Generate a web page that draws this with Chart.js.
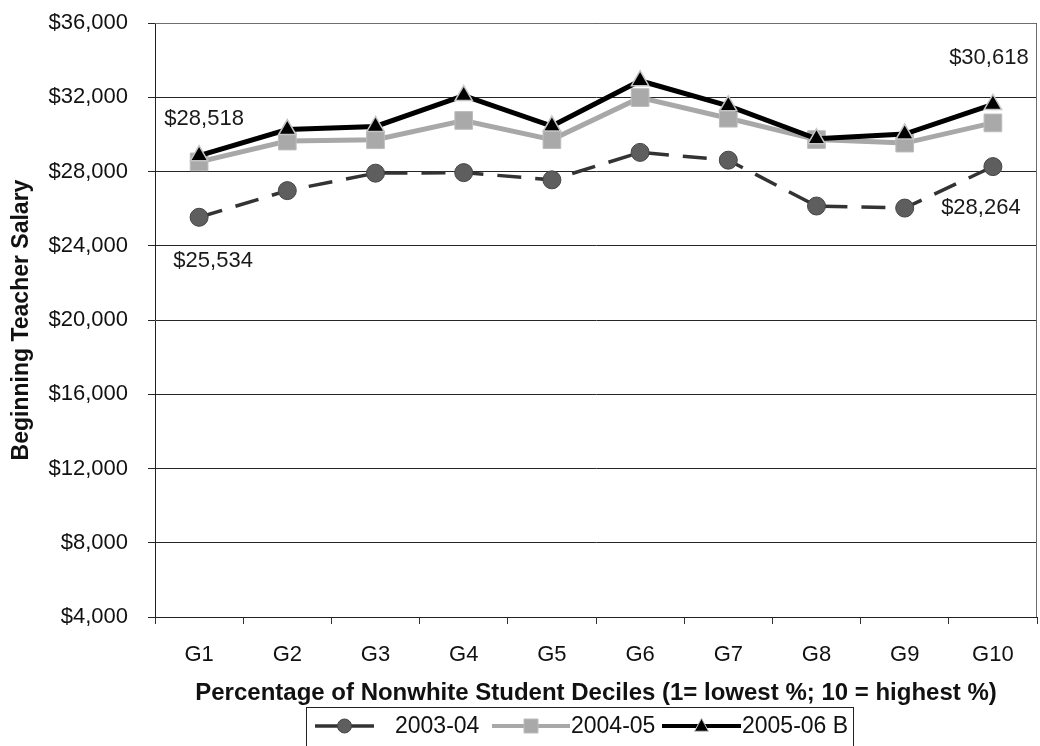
<!DOCTYPE html>
<html>
<head>
<meta charset="utf-8">
<script src="https://cdn.jsdelivr.net/npm/chart.js@4.4.1/dist/chart.umd.min.js"></script>
<style>
  html, body { margin: 0; padding: 0; background: #fff; }
  #wrap { width: 1040px; height: 746px; }
</style>
</head>
<body>
<div id="wrap"><canvas id="salaryChart" width="1040" height="746"></canvas></div>
<script>
// Beginning teacher salary by nonwhite-student decile, three school years
const deciles = ['G1', 'G2', 'G3', 'G4', 'G5', 'G6', 'G7', 'G8', 'G9', 'G10'];
const salary2003 = [25534, 26970, 27910, 27940, 27550, 29030, 28610, 26140, 26030, 28264];
const salary2004 = [28518, 29640, 29710, 30750, 29720, 31980, 30870, 29720, 29530, 30618];
const salary2005 = [28850, 30260, 30430, 32090, 30450, 32890, 31540, 29760, 30020, 31610];
const seriesNames = ['2003-04', '2004-05', '2005-06 B'];
const yMin = 4000;
const yMax = 36000;
const yStep = 4000;

const FONT = '"Liberation Sans", Arial, sans-serif';

function money(v) {
    return '$' + Number(v).toLocaleString('en-US');
}

// which points carry a value callout, and where the text sits relative to the point
const callouts = [
    { series: 1, index: 0, dx: 5, dy: -43 },
    { series: 1, index: 9, dx: -4, dy: -65 },
    { series: 0, index: 0, dx: 14, dy: 44 },
    { series: 0, index: 9, dx: -12, dy: 41 }
];

// frame around the plot area (top and right edges)
const plotFrame = {
    id: 'plotFrame',
    beforeDatasetsDraw(chart) {
        const { ctx, chartArea: a } = chart;
        ctx.save();
        ctx.strokeStyle = '#6e6e6e';
        ctx.lineWidth = 1;
        ctx.beginPath();
        ctx.moveTo(a.left, a.top + 0.5);
        ctx.lineTo(a.right - 0.5, a.top + 0.5);
        ctx.lineTo(a.right - 0.5, a.bottom);
        ctx.stroke();
        ctx.restore();
    }
};

const valueCallouts = {
    id: 'valueCallouts',
    afterDatasetsDraw(chart) {
        const ctx = chart.ctx;
        ctx.save();
        ctx.font = '22px ' + FONT;
        ctx.fillStyle = '#1a1a1a';
        ctx.textAlign = 'center';
        ctx.textBaseline = 'middle';
        callouts.forEach(c => {
            const pt = chart.getDatasetMeta(c.series).data[c.index];
            const value = chart.data.datasets[c.series].data[c.index];
            ctx.fillText(money(value), pt.x + c.dx, pt.y + c.dy);
        });
        ctx.restore();
    }
};

function drawMarker(ctx, ds, x, y, r) {
    ctx.save();
    ctx.fillStyle = ds.pointBackgroundColor;
    ctx.strokeStyle = ds.pointBorderColor;
    ctx.lineWidth = 1;
    ctx.setLineDash([]);
    ctx.beginPath();
    if (ds.pointStyle === 'circle') {
        ctx.arc(x, y, r, 0, Math.PI * 2);
    } else if (ds.pointStyle === 'rect') {
        ctx.rect(x - r, y - r, r * 2, r * 2);
    } else {
        ctx.moveTo(x, y - r * 1.1);
        ctx.lineTo(x + r, y + r * 0.75);
        ctx.lineTo(x - r, y + r * 0.75);
        ctx.closePath();
    }
    ctx.fill();
    ctx.stroke();
    ctx.restore();
}

// boxed legend with line + marker samples under the axis title
const lineLegend = {
    id: 'lineLegend',
    afterDraw(chart) {
        const ctx = chart.ctx;
        const items = [
            { ds: 0, x0: 315, x1: 374, text: 395 },
            { ds: 1, x0: 492, x1: 570, text: 571 },
            { ds: 2, x0: 662, x1: 741, text: 742 }
        ];
        const y = 726;
        ctx.save();
        ctx.strokeStyle = '#222';
        ctx.lineWidth = 1;
        ctx.strokeRect(306.5, 707.5, 547, 60);
        items.forEach(it => {
            const ds = chart.data.datasets[it.ds];
            ctx.save();
            ctx.strokeStyle = ds.borderColor;
            ctx.lineWidth = Math.min(ds.borderWidth, 4);
            ctx.beginPath();
            ctx.moveTo(it.x0, y);
            ctx.lineTo(it.x1, y);
            ctx.stroke();
            ctx.restore();
            drawMarker(ctx, ds, (it.x0 + it.x1) / 2, y, 7);
            ctx.font = '23px ' + FONT;
            ctx.fillStyle = '#111';
            ctx.textAlign = 'left';
            ctx.textBaseline = 'middle';
            ctx.fillText(ds.label, it.text, y + 1);
        });
        ctx.restore();
    }
};

const ctx = document.getElementById('salaryChart').getContext('2d');
new Chart(ctx, {
    type: 'line',
    data: {
        labels: deciles,
        datasets: [
            {
                label: seriesNames[0],
                data: salary2003,
                borderColor: '#333333',
                borderWidth: 3.5,
                borderDash: [24, 14],
                pointStyle: 'circle',
                pointRadius: 9,
                pointBackgroundColor: '#5e5e5e',
                pointBorderColor: '#444444',
                pointBorderWidth: 1,
                tension: 0,
                order: 2
            },
            {
                label: seriesNames[1],
                data: salary2004,
                borderColor: '#a8a8a8',
                borderWidth: 5,
                pointStyle: 'rect',
                pointRadius: 12.5,
                pointBackgroundColor: '#a9a9a9',
                pointBorderColor: '#bcbcbc',
                pointBorderWidth: 1,
                tension: 0,
                order: 1
            },
            {
                label: seriesNames[2],
                data: salary2005,
                borderColor: '#000000',
                borderWidth: 5,
                pointStyle: 'triangle',
                pointRadius: 10,
                pointBackgroundColor: '#000000',
                pointBorderColor: '#c4c4c4',
                pointBorderWidth: 1.5,
                tension: 0,
                order: 0
            }
        ]
    },
    options: {
        responsive: false,
        animation: false,
        events: [],
        layout: {
            autoPadding: false,
            padding: { top: 23, right: 3, bottom: 0, left: 0 }
        },
        plugins: {
            legend: { display: false },
            tooltip: { enabled: false }
        },
        scales: {
            x: {
                type: 'category',
                offset: true,
                afterFit: scale => {
                    scale.height = 129;
                    scale.paddingLeft = 0;
                    scale.paddingRight = 0;
                },
                grid: {
                    offset: true,
                    drawOnChartArea: false,
                    drawTicks: true,
                    tickLength: 7,
                    color: '#333'
                },
                border: { color: '#222', width: 1 },
                ticks: {
                    padding: 18,
                    color: '#111',
                    font: { family: FONT, size: 22 }
                },
                title: {
                    display: true,
                    text: 'Percentage of Nonwhite Student Deciles (1= lowest %; 10 = highest %)',
                    color: '#111',
                    font: { family: FONT, size: 24, weight: 'bold' },
                    padding: { top: 0, bottom: 38 }
                }
            },
            y: {
                min: yMin,
                max: yMax,
                afterFit: scale => {
                    scale.width = 155;
                    scale.paddingTop = 0;
                    scale.paddingBottom = 0;
                },
                grid: {
                    color: '#262626',
                    lineWidth: 1,
                    drawTicks: true,
                    tickLength: 7
                },
                border: { color: '#222', width: 1 },
                ticks: {
                    stepSize: yStep,
                    padding: 20,
                    color: '#111',
                    font: { family: FONT, size: 22 },
                    callback: v => money(v)
                },
                title: {
                    display: true,
                    text: 'Beginning Teacher Salary',
                    color: '#111',
                    font: { family: FONT, size: 23, weight: 'bold' },
                    padding: { top: 8, bottom: 0 }
                }
            }
        }
    },
    plugins: [plotFrame, valueCallouts, lineLegend]
});
</script>
</body>
</html>
